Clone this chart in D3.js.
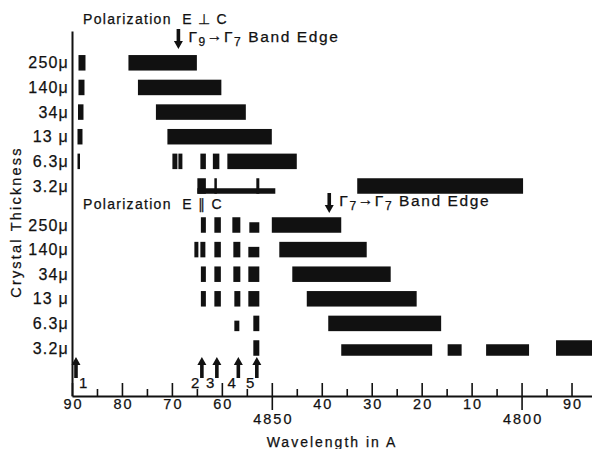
<!DOCTYPE html>
<html>
<head>
<meta charset="utf-8">
<script src="https://cdn.jsdelivr.net/npm/d3@7"></script>
<style>
body { margin: 0; background: #fff; }
text { font-family: "Liberation Sans", Arial, sans-serif; fill: #111; stroke: #111; stroke-width: 0.25; }
</style>
</head>
<body>
<div id="chart"></div>
<script>
// crystal thickness rows (same for both polarizations)
const thickness = ["250μ", "140μ", "34μ", "13 μ", "6.3μ", "3.2μ"];

// E perpendicular C : [row, from Å, to Å, kind]
const perpBands = [
  ["250μ", 4888.7, 4887.3, "full"], ["250μ", 4878.7, 4865.0, "full"],
  ["140μ", 4888.7, 4887.5, "full"], ["140μ", 4876.8, 4860.1, "full"],
  ["34μ", 4888.8, 4887.7, "full"], ["34μ", 4873.2, 4855.2, "full"],
  ["13 μ", 4888.9, 4887.9, "full"], ["13 μ", 4870.9, 4850.0, "full"],
  ["6.3μ", 4888.9, 4888.4, "full"], ["6.3μ", 4869.9, 4868.9, "full"],
  ["6.3μ", 4868.7, 4867.9, "full"], ["6.3μ", 4864.3, 4863.2, "full"],
  ["6.3μ", 4861.8, 4860.5, "full"], ["6.3μ", 4858.9, 4845.0, "full"],
  ["3.2μ", 4864.9, 4863.2, "full"], ["3.2μ", 4864.9, 4849.3, "thin"],
  ["3.2μ", 4861.5, 4861.0, "full"], ["3.2μ", 4853.1, 4852.5, "full"],
  ["3.2μ", 4832.9, 4799.7, "full"]
];

// E parallel C
const parBands = [
  ["250μ", 4864.2, 4863.2, "full"], ["250μ", 4861.5, 4860.2, "full"],
  ["250μ", 4857.9, 4856.3, "full"], ["250μ", 4854.5, 4852.5, "short"],
  ["250μ", 4850.0, 4836.1, "full"],
  ["140μ", 4865.5, 4864.7, "full"], ["140μ", 4864.3, 4863.3, "full"],
  ["140μ", 4861.5, 4860.2, "full"], ["140μ", 4857.7, 4856.3, "full"],
  ["140μ", 4854.7, 4852.5, "short"], ["140μ", 4848.5, 4831.0, "full"],
  ["34μ", 4864.2, 4863.2, "full"], ["34μ", 4861.5, 4860.2, "full"],
  ["34μ", 4857.7, 4856.3, "full"], ["34μ", 4854.7, 4852.5, "full"],
  ["34μ", 4845.9, 4826.2, "full"],
  ["13 μ", 4864.2, 4863.2, "full"], ["13 μ", 4861.5, 4860.2, "full"],
  ["13 μ", 4857.5, 4856.3, "full"], ["13 μ", 4854.7, 4852.5, "full"],
  ["13 μ", 4843.0, 4821.0, "full"],
  ["6.3μ", 4857.5, 4856.5, "short"], ["6.3μ", 4853.7, 4852.5, "full"],
  ["6.3μ", 4838.7, 4816.1, "full"],
  ["3.2μ", 4853.7, 4852.5, "full"], ["3.2μ", 4836.1, 4817.9, "mid"],
  ["3.2μ", 4814.8, 4812.0, "mid"], ["3.2μ", 4807.1, 4798.5, "mid"],
  ["3.2μ", 4793.1, 4780.0, "full"]
];

// numbered lines along the bottom
const lineMarks = [
  { n: "1", wl: 4889.2 }, { n: "2", wl: 4864.0 }, { n: "3", wl: 4861.0 },
  { n: "4", wl: 4856.7 }, { n: "5", wl: 4853.0 }
];

// band edges: Γ(a) -> Γ(b)
const bandEdges = [
  { panel: "perp", wl: 4868.7, a: "9", b: "7" },
  { panel: "par", wl: 4838.5, a: "7", b: "7" }
];

const majorTicks = [4890, 4880, 4870, 4860, 4840, 4830, 4820, 4810, 4790];
const longTicks = [4850, 4800];
const minorTicks = [4885, 4875, 4865, 4855, 4845, 4835, 4825, 4815, 4805, 4795];

const W = 592, H = 449;
const axisY = 396;

const svg = d3.select("#chart").append("svg")
  .attr("width", W).attr("height", H);

const x = d3.scaleLinear().domain([4890, 4786]).range([72, 591.5]);
const yPerp = d3.scalePoint().domain(thickness).range([62.8, 186]);
const yPar = d3.scalePoint().domain(thickness).range([225, 348]);

const barH = { full: 15.5, short: 10.5, mid: 11.5, thin: 5.5 };

function drawBands(data, y) {
  svg.append("g").selectAll("rect")
    .data(data)
    .join("rect")
      .attr("x", d => x(d[1]))
      .attr("width", d => x(d[2]) - x(d[1]))
      .attr("y", d => y(d[0]) + 7.75 - barH[d[3]])
      .attr("height", d => barH[d[3]])
      .attr("fill", "#111");
}
drawBands(perpBands, yPerp);
drawBands(parBands, yPar);

// row labels
[yPerp, yPar].forEach(y => {
  const g = svg.append("g")
    .attr("transform", "translate(72,0)")
    .call(d3.axisLeft(y).tickSize(0).tickPadding(3));
  g.select(".domain").remove();
  g.selectAll("text")
    .attr("font-size", 16).attr("font-family", "Liberation Sans, Arial, sans-serif")
    .attr("letter-spacing", 1.2).attr("fill", "#111");
});

// vertical axis line
const yLine = d3.scaleLinear().domain([0, 1]).range([axisY, 31]);
svg.append("g")
  .attr("transform", "translate(72,0)")
  .call(d3.axisLeft(yLine).tickValues([]).tickSizeOuter(0))
  .select(".domain").attr("stroke", "#111").attr("stroke-width", 2);

// x axis
function styleAxis(g) {
  g.selectAll("line").attr("stroke", "#111").attr("stroke-width", 1.6);
  g.selectAll("text")
    .attr("font-size", 14.5).attr("font-family", "Liberation Sans, Arial, sans-serif")
    .attr("letter-spacing", 2).attr("fill", "#111").attr("dx", 1);
}
const gMinor = svg.append("g").attr("transform", `translate(0,${axisY})`)
  .call(d3.axisBottom(x).tickValues(minorTicks).tickSize(-7).tickFormat(""));
gMinor.select(".domain").remove();
styleAxis(gMinor);

const gMajor = svg.append("g").attr("transform", `translate(0,${axisY})`)
  .call(d3.axisBottom(x).tickValues(majorTicks.concat(longTicks))
    .tickSize(-13).tickSizeOuter(0).tickPadding(3)
    .tickFormat(d => longTicks.includes(d) ? "" : d % 100));
gMajor.select(".domain").attr("stroke", "#111").attr("stroke-width", 2);
styleAxis(gMajor);

const gLong = svg.append("g").attr("transform", `translate(0,${axisY})`)
  .call(d3.axisBottom(x).tickValues(longTicks).tickSize(14).tickPadding(4)
    .tickFormat(d3.format("d")));
gLong.select(".domain").remove();
styleAxis(gLong);

// arrows
function arrow(xc, yTail, yTip) {
  const dir = yTip > yTail ? 1 : -1;
  const head = 8, hw = 4.5, sw = 1.8;
  const base = yTip - dir * head;
  return `M${xc - sw},${yTail} L${xc + sw},${yTail} L${xc + sw},${base} L${xc + hw},${base} ` +
    `L${xc},${yTip} L${xc - hw},${base} L${xc - sw},${base} Z`;
}

svg.append("g").selectAll("path")
  .data(lineMarks)
  .join("path")
    .attr("d", d => arrow(x(d.wl), 378, 357))
    .attr("fill", "#111");

svg.append("g").selectAll("text")
  .data(lineMarks)
  .join("text")
    .attr("x", (d, i) => i === 0 ? x(d.wl) + 3 : x(d.wl) - 2.5)
    .attr("y", 387.5)
    .attr("text-anchor", (d, i) => i === 0 ? "start" : "end")
    .attr("font-size", 15)
    .text(d => d.n);

bandEdges.forEach(e => {
  const top = e.panel === "perp" ? 29 : 193;
  const xc = x(e.wl);
  svg.append("path").attr("d", arrow(xc, top, top + 20)).attr("fill", "#111");
  const t = svg.append("text")
    .attr("x", xc + 10).attr("y", top + 12.5)
    .attr("font-size", 15.5).attr("letter-spacing", 1.6);
  t.append("tspan").text("Γ");
  t.append("tspan").attr("font-size", 12).attr("dy", 4).text(e.a);
  t.append("tspan").attr("dy", -5).text("→");
  t.append("tspan").attr("dy", 1).text("Γ");
  t.append("tspan").attr("font-size", 12).attr("dy", 4).text(e.b);
  t.append("tspan").attr("dy", -4).text(" Band Edge");
});

// panel titles
svg.append("text").attr("x", 83).attr("y", 23.5)
  .attr("font-size", 14).attr("letter-spacing", 1.3)
  .text("Polarization  E ⊥ C").attr("style", "white-space:pre");
svg.append("text").attr("x", 83).attr("y", 209)
  .attr("font-size", 14).attr("letter-spacing", 1.3)
  .text("Polarization  E ∥ C").attr("style", "white-space:pre");

// axis titles
svg.append("text")
  .attr("transform", "translate(21,222) rotate(-90)")
  .attr("text-anchor", "middle")
  .attr("font-size", 14.5).attr("letter-spacing", 2.2)
  .text("Crystal Thickness");

svg.append("text")
  .attr("x", 332).attr("y", 447)
  .attr("text-anchor", "middle")
  .attr("font-size", 14).attr("letter-spacing", 2)
  .text("Wavelength in A");
</script>
</body>
</html>
